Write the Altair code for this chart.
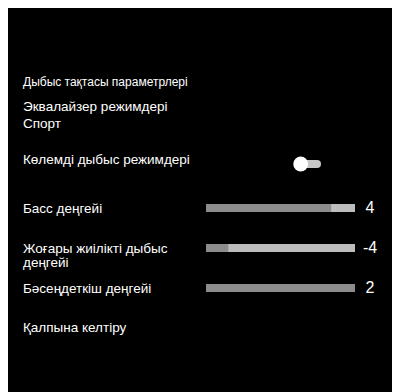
import altair as alt
import pandas as pd

# ---- data ----
header_label = ["Дыбыс тақтасы параметрлері"]
menu_labels = [
    "Эквалайзер режимдері",
    "Спорт",
    "Көлемді дыбыс режимдері",
    "Басс деңгейі",
    "Жоғары жиілікті дыбыс",
    "деңгейі",
    "Бәсеңдеткіш деңгейі",
    "Қалпына келтіру",
]
slider_names = ["Басс деңгейі", "Жоғары жиілікті дыбыс деңгейі", "Бәсеңдеткіш деңгейі"]
slider_values = ["4", "-4", "2"]
slider_fill = [0.84, 0.15, 1.0]
toggle_names = ["Көлемді дыбыс режимдері"]
toggle_state = [0]

# ---- layout grid (menu rows, 40px each) ----
header_rows = [1.94]
menu_rows = [2.575, 3.01, 3.9, 5.13, 6.12, 6.48, 7.13, 8.09]
slider_rows = [5, 6, 7]
toggle_rows = [3.9]

FONT = "Liberation Sans"
yscale = alt.Scale(domain=[0, 9.6], range=[0, 384], nice=False, zero=False)
xscale = alt.Scale(domain=[0, 1], range=[198, 347], nice=False, zero=False)

header_df = pd.DataFrame({"label": header_label, "row": header_rows})
menu_df = pd.DataFrame({"label": menu_labels, "row": menu_rows})
slider_df = pd.DataFrame({"name": slider_names, "value": slider_values,
                          "fill": slider_fill, "row": slider_rows})
toggle_df = pd.DataFrame({"name": toggle_names, "state": toggle_state, "row": toggle_rows})

Y = alt.Y("row:Q", scale=yscale, axis=None)

header = alt.Chart(header_df).mark_text(
    align="left", baseline="alphabetic", font=FONT, fontSize=12, color="white"
).encode(x=alt.value(15), y=Y, text="label:N")

menu = alt.Chart(menu_df).mark_text(
    align="left", baseline="alphabetic", font=FONT, fontSize=13.5, color="white"
).encode(x=alt.value(15), y=Y, text="label:N")

track = alt.Chart(slider_df).mark_rule(
    strokeWidth=8, strokeCap="butt", color="#bdbdbd"
).encode(x=alt.X("zero:Q", scale=xscale, axis=None), x2="one:Q", y=Y
).transform_calculate(zero="0", one="1")

fill = alt.Chart(slider_df).mark_rule(
    strokeWidth=8, strokeCap="butt", color="#8c8c8c"
).encode(x=alt.X("zero:Q", scale=xscale, axis=None), x2="fill:Q", y=Y
).transform_calculate(zero="0")

values = alt.Chart(slider_df).mark_text(
    align="center", baseline="middle", font=FONT, fontSize=16, color="white"
).encode(x=alt.value(362), y=Y, text="value:N")

pill = alt.Chart(toggle_df).mark_rule(
    strokeWidth=8, strokeCap="round", color="#c8c8c8"
).encode(x=alt.value(296), x2=alt.value(309), y=Y)

knob = alt.Chart(toggle_df).mark_circle(
    size=220, color="white", opacity=1
).encode(x=alt.value(292.7), y=Y)

chart = alt.layer(header, menu, track, fill, values, pill, knob).properties(
    width=384, height=384, padding=0, background="black",
    autosize=alt.AutoSizeParams(type="none"),
).configure_view(stroke=None)

chart.save("out.html", embed_options={"renderer": "svg", "actions": False})
